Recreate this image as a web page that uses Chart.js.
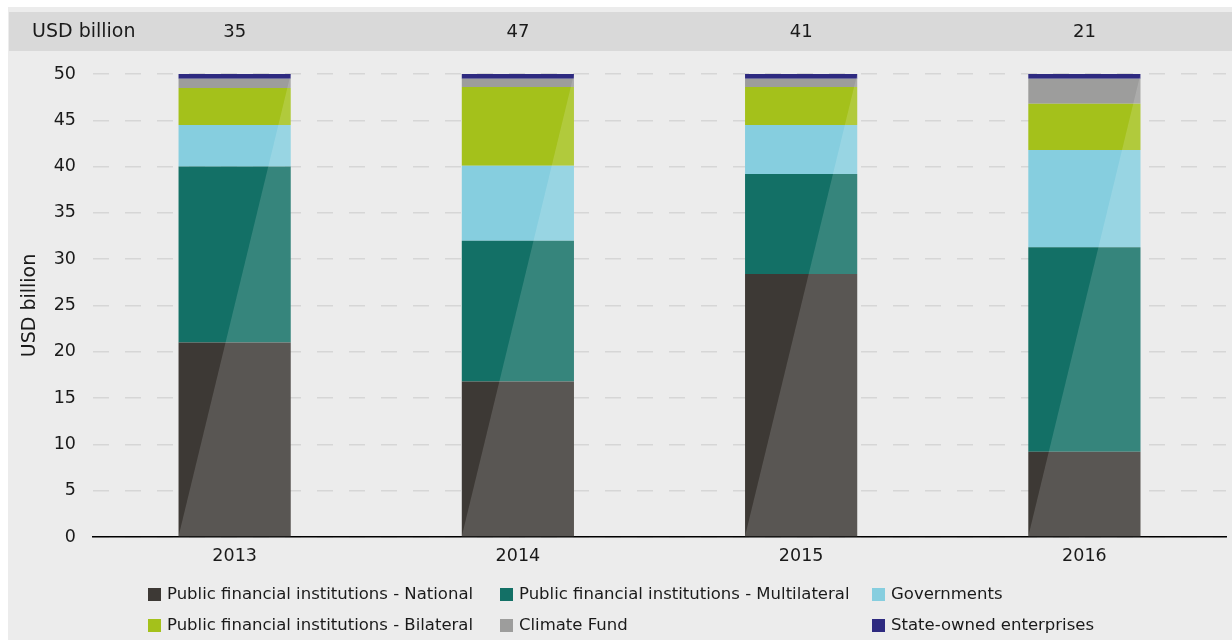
<!DOCTYPE html>
<html><head><meta charset="utf-8">
<script src="https://cdn.jsdelivr.net/npm/chart.js@4.4.1/dist/chart.umd.min.js"></script>
<style>html,body{margin:0;padding:0;background:#fff;}#wrap{width:1232px;height:640px;position:relative;}canvas{display:block}</style>
</head><body><div id="wrap"><canvas id="c" width="1232" height="640"></canvas></div>
<script>
const categories = ['2013', '2014', '2015', '2016'];
const totals = ['35', '47', '41', '21'];
const national = [21.0, 16.8, 28.4, 9.2];
const multilateral = [19.0, 15.2, 10.8, 22.1];
const governments = [4.5, 8.1, 5.3, 10.5];
const bilateral = [4.0, 8.5, 4.1, 5.0];
const climateFund = [1.0, 0.9, 0.9, 2.7];
const stateOwned = [0.5, 0.5, 0.5, 0.5];
const seriesNames = ['Public financial institutions - National', 'Public financial institutions - Multilateral', 'Governments', 'Public financial institutions - Bilateral', 'Climate Fund', 'State-owned enterprises'];
const seriesColors = ['#3d3935', '#137066', '#86cedf', '#a4c11b', '#9d9d9c', '#2e2a80'];
const yMax = 50, yStep = 5;
const FONT = 'DejaVu Sans';

const bg = {
  id: 'bg',
  beforeDraw(chart) {
    const ctx = chart.ctx;
    ctx.save();
    ctx.fillStyle = '#ffffff'; ctx.fillRect(0, 0, chart.width, chart.height);
    ctx.fillStyle = '#ececec'; ctx.fillRect(8, 7, chart.width - 8, chart.height - 7);
    ctx.fillStyle = '#d9d9d9'; ctx.fillRect(9, 12, chart.width - 9, 39);
    ctx.restore();
  },
  afterDraw(chart) {
    const ctx = chart.ctx;
    const xs = chart.scales.x;
    ctx.save();
    ctx.fillStyle = '#1a1a1a';
    ctx.textBaseline = 'middle';
    ctx.textAlign = 'left';
    ctx.font = '19px "' + FONT + '"';
    ctx.fillText('USD billion', 32, 32);
    ctx.font = '18px "' + FONT + '"';
    ctx.textAlign = 'center';
    totals.forEach((t, i) => ctx.fillText(t, xs.getPixelForValue(i), 32));
    // legend
    const cols = [148, 500, 872], rows = [594, 625];
    ctx.font = '16.5px "' + FONT + '"';
    ctx.textAlign = 'left';
    chart.data.datasets.forEach((ds, i) => {
      const cx = cols[i % 3], cy = rows[Math.floor(i / 3)];
      ctx.fillStyle = ds.backgroundColor;
      ctx.fillRect(cx, cy - 6, 13, 13);
      ctx.fillStyle = '#1a1a1a';
      ctx.fillText(ds.label, cx + 19, cy + 1);
    });
    ctx.restore();
  }
};

const shine = {
  id: 'shine',
  afterDatasetsDraw(chart) {
    const ctx = chart.ctx;
    const n = chart.data.datasets.length;
    const first = chart.getDatasetMeta(0), last = chart.getDatasetMeta(n - 1);
    ctx.save();
    ctx.fillStyle = 'rgba(255,255,255,0.15)';
    first.data.forEach((bar, i) => {
      const top = last.data[i];
      const half = bar.width / 2;
      const l = bar.x - half, r = bar.x + half;
      ctx.beginPath();
      ctx.moveTo(l, bar.base);
      ctx.lineTo(r, top.y);
      ctx.lineTo(r, bar.base);
      ctx.closePath();
      ctx.fill();
    });
    ctx.restore();
  }
};

const values = [national, multilateral, governments, bilateral, climateFund, stateOwned];
new Chart(document.getElementById('c'), {
  type: 'bar',
  data: {
    labels: categories,
    datasets: values.map((v, i) => ({
      label: seriesNames[i], data: v, backgroundColor: seriesColors[i],
      borderWidth: 0, categoryPercentage: 1, barPercentage: 0.396
    }))
  },
  options: {
    responsive: false, animation: false,
    layout: { padding: { left: 8, right: 6, top: 74, bottom: 73 } },
    plugins: { legend: { display: false }, tooltip: { enabled: false } },
    scales: {
      x: {
        stacked: true,
        grid: { display: false, drawTicks: false },
        border: { display: true, color: '#000', width: 1.5 },
        ticks: { color: '#1a1a1a', font: { family: FONT, size: 17.5 }, padding: 9 },
        afterFit(s) { s.height = 30; }
      },
      y: {
        stacked: true, min: 0, max: yMax,
        grid: { color: '#d6d6d6', lineWidth: 1.5, drawTicks: false },
        border: { display: false, dash: [16, 16] },
        ticks: { stepSize: yStep, color: '#1a1a1a', font: { family: FONT, size: 17.5 }, padding: 17 },
        title: { display: true, text: 'USD billion', color: '#1a1a1a', font: { family: FONT, size: 19 }, padding: { top: 11, bottom: 0 } },
        afterFit(s) { s.width = 85; }
      }
    }
  },
  plugins: [bg, shine]
});
</script></body></html>
